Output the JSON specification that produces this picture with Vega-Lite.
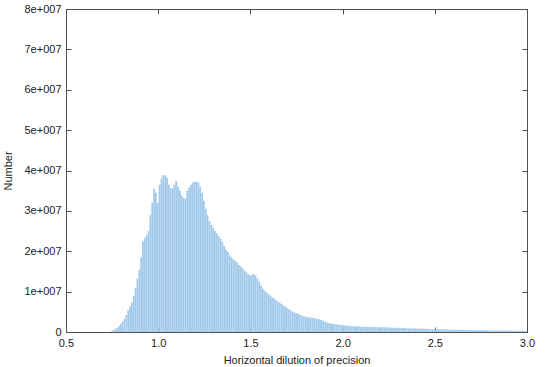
{
  "$schema": "https://vega.github.io/schema/vega-lite/v6.json",
  "width": 461,
  "height": 323,
  "autosize": {"type": "none"},
  "padding": {"left": 66, "top": 9, "right": 23, "bottom": 35},
  "background": "white",
  "config": {
    "view": {"stroke": "#505050", "strokeWidth": 1},
    "font": "Liberation Sans",
    "axis": {
      "domain": false,
      "grid": false,
      "tickColor": "#505050",
      "labelFont": "Liberation Sans",
      "labelFontSize": 11,
      "labelColor": "#222222",
      "titleFont": "Liberation Sans",
      "titleFontSize": 11,
      "titleFontWeight": "normal",
      "titleColor": "#222222"
    }
  },
  "data": {
    "values": [
      {"lo":0.74,"n":200000},{"lo":0.75,"n":500000},{"lo":0.76,"n":800000},{"lo":0.77,"n":1000000},{"lo":0.78,"n":1500000},{"lo":0.79,"n":2100000},
      {"lo":0.80,"n":2600000},{"lo":0.81,"n":3300000},{"lo":0.82,"n":4200000},{"lo":0.83,"n":5400000},{"lo":0.84,"n":6300000},{"lo":0.85,"n":7300000},{"lo":0.86,"n":9000000},{"lo":0.87,"n":11000000},{"lo":0.88,"n":13200000},{"lo":0.89,"n":15500000},
      {"lo":0.90,"n":18600000},{"lo":0.91,"n":22500000},{"lo":0.92,"n":23300000},{"lo":0.93,"n":24000000},{"lo":0.94,"n":25000000},{"lo":0.95,"n":29000000},{"lo":0.96,"n":32000000},{"lo":0.97,"n":35500000},{"lo":0.98,"n":34500000},{"lo":0.99,"n":32000000},
      {"lo":1.00,"n":36500000},{"lo":1.01,"n":38000000},{"lo":1.02,"n":38800000},{"lo":1.03,"n":38900000},{"lo":1.04,"n":38200000},{"lo":1.05,"n":36500000},{"lo":1.06,"n":35600000},{"lo":1.07,"n":35600000},{"lo":1.08,"n":36500000},{"lo":1.09,"n":37400000},
      {"lo":1.10,"n":36000000},{"lo":1.11,"n":35000000},{"lo":1.12,"n":33800000},{"lo":1.13,"n":33200000},{"lo":1.14,"n":33000000},{"lo":1.15,"n":35000000},{"lo":1.16,"n":35800000},{"lo":1.17,"n":36500000},{"lo":1.18,"n":37000000},{"lo":1.19,"n":37200000},
      {"lo":1.20,"n":37200000},{"lo":1.21,"n":37000000},{"lo":1.22,"n":36000000},{"lo":1.23,"n":34500000},{"lo":1.24,"n":32500000},{"lo":1.25,"n":30500000},{"lo":1.26,"n":29000000},{"lo":1.27,"n":27500000},{"lo":1.28,"n":26500000},{"lo":1.29,"n":25800000},
      {"lo":1.30,"n":25000000},{"lo":1.31,"n":24500000},{"lo":1.32,"n":23800000},{"lo":1.33,"n":23200000},{"lo":1.34,"n":22300000},{"lo":1.35,"n":21300000},{"lo":1.36,"n":20400000},{"lo":1.37,"n":19800000},{"lo":1.38,"n":19000000},{"lo":1.39,"n":18500000},
      {"lo":1.40,"n":18000000},{"lo":1.41,"n":17600000},{"lo":1.42,"n":17200000},{"lo":1.43,"n":16600000},{"lo":1.44,"n":16200000},{"lo":1.45,"n":15700000},{"lo":1.46,"n":15200000},{"lo":1.47,"n":14800000},{"lo":1.48,"n":14300000},{"lo":1.49,"n":14000000},
      {"lo":1.50,"n":14200000},{"lo":1.51,"n":14400000},{"lo":1.52,"n":14000000},{"lo":1.53,"n":13200000},{"lo":1.54,"n":12400000},{"lo":1.55,"n":11500000},{"lo":1.56,"n":10700000},{"lo":1.57,"n":10200000},{"lo":1.58,"n":9800000},{"lo":1.59,"n":9400000},
      {"lo":1.60,"n":9000000},{"lo":1.61,"n":8600000},{"lo":1.62,"n":8300000},{"lo":1.63,"n":7900000},{"lo":1.64,"n":7600000},{"lo":1.65,"n":7300000},{"lo":1.66,"n":7000000},{"lo":1.67,"n":6600000},{"lo":1.68,"n":6300000},{"lo":1.69,"n":6000000},
      {"lo":1.70,"n":5700000},{"lo":1.71,"n":5400000},{"lo":1.72,"n":5100000},{"lo":1.73,"n":4900000},{"lo":1.74,"n":4700000},{"lo":1.75,"n":4500000},{"lo":1.76,"n":4300000},{"lo":1.77,"n":4100000},{"lo":1.78,"n":3900000},{"lo":1.79,"n":3800000},
      {"lo":1.80,"n":3700000},{"lo":1.81,"n":3600000},{"lo":1.82,"n":3600000},{"lo":1.83,"n":3500000},{"lo":1.84,"n":3400000},{"lo":1.85,"n":3300000},{"lo":1.86,"n":3200000},{"lo":1.87,"n":3100000},{"lo":1.88,"n":2900000},{"lo":1.89,"n":2700000},
      {"lo":1.90,"n":2500000},{"lo":1.91,"n":2300000},{"lo":1.92,"n":2200000},{"lo":1.93,"n":2100000},{"lo":1.94,"n":2000000},{"lo":1.95,"n":1900000},{"lo":1.96,"n":1850000},{"lo":1.97,"n":1800000},{"lo":1.98,"n":1750000},{"lo":1.99,"n":1700000},
      {"lo":2.00,"n":1650000},{"lo":2.01,"n":1600000},{"lo":2.02,"n":1550000},{"lo":2.03,"n":1500000},{"lo":2.04,"n":1500000},{"lo":2.05,"n":1450000},{"lo":2.06,"n":1400000},{"lo":2.07,"n":1400000},{"lo":2.08,"n":1350000},{"lo":2.09,"n":1350000},
      {"lo":2.10,"n":1300000},{"lo":2.11,"n":1290000},{"lo":2.12,"n":1280000},{"lo":2.13,"n":1270000},{"lo":2.14,"n":1260000},{"lo":2.15,"n":1250000},{"lo":2.16,"n":1240000},{"lo":2.17,"n":1230000},{"lo":2.18,"n":1220000},{"lo":2.19,"n":1210000},
      {"lo":2.20,"n":1200000},{"lo":2.21,"n":1180000},{"lo":2.22,"n":1160000},{"lo":2.23,"n":1140000},{"lo":2.24,"n":1120000},{"lo":2.25,"n":1100000},{"lo":2.26,"n":1080000},{"lo":2.27,"n":1060000},{"lo":2.28,"n":1040000},{"lo":2.29,"n":1020000},
      {"lo":2.30,"n":1000000},{"lo":2.31,"n":990000},{"lo":2.32,"n":970000},{"lo":2.33,"n":960000},{"lo":2.34,"n":940000},{"lo":2.35,"n":930000},{"lo":2.36,"n":910000},{"lo":2.37,"n":900000},{"lo":2.38,"n":880000},{"lo":2.39,"n":870000},
      {"lo":2.40,"n":850000},{"lo":2.41,"n":840000},{"lo":2.42,"n":820000},{"lo":2.43,"n":810000},{"lo":2.44,"n":800000},{"lo":2.45,"n":780000},{"lo":2.46,"n":770000},{"lo":2.47,"n":750000},{"lo":2.48,"n":730000},{"lo":2.49,"n":720000},
      {"lo":2.50,"n":700000},{"lo":2.51,"n":690000},{"lo":2.52,"n":670000},{"lo":2.53,"n":660000},{"lo":2.54,"n":640000},{"lo":2.55,"n":630000},{"lo":2.56,"n":610000},{"lo":2.57,"n":600000},{"lo":2.58,"n":580000},{"lo":2.59,"n":570000},
      {"lo":2.60,"n":550000},{"lo":2.61,"n":540000},{"lo":2.62,"n":530000},{"lo":2.63,"n":520000},{"lo":2.64,"n":510000},{"lo":2.65,"n":500000},{"lo":2.66,"n":490000},{"lo":2.67,"n":480000},{"lo":2.68,"n":470000},{"lo":2.69,"n":460000},
      {"lo":2.70,"n":450000},{"lo":2.71,"n":450000},{"lo":2.72,"n":440000},{"lo":2.73,"n":440000},{"lo":2.74,"n":430000},{"lo":2.75,"n":430000},{"lo":2.76,"n":420000},{"lo":2.77,"n":420000},{"lo":2.78,"n":410000},{"lo":2.79,"n":410000},
      {"lo":2.80,"n":400000},{"lo":2.81,"n":400000},{"lo":2.82,"n":390000},{"lo":2.83,"n":390000},{"lo":2.84,"n":380000},{"lo":2.85,"n":380000},{"lo":2.86,"n":370000},{"lo":2.87,"n":370000},{"lo":2.88,"n":360000},{"lo":2.89,"n":360000},
      {"lo":2.90,"n":350000},{"lo":2.91,"n":350000},{"lo":2.92,"n":340000},{"lo":2.93,"n":340000},{"lo":2.94,"n":330000},{"lo":2.95,"n":330000},{"lo":2.96,"n":320000},{"lo":2.97,"n":320000},{"lo":2.98,"n":310000},{"lo":2.99,"n":310000}
    ]
  },
  "layer": [
    {
      "mark": {"type": "bar", "fill": "#9cc7ea", "stroke": "#ffffff", "strokeWidth": 0.25, "strokeOpacity": 0.5, "binSpacing": 0, "clip": true},
      "encoding": {
        "x": {
          "field": "lo", "type": "quantitative", "bin": {"binned": true, "step": 0.01},
          "scale": {"domain": [0.5, 3.0], "nice": false, "zero": false, "padding": 0},
          "axis": {"orient": "bottom", "values": [0.5, 1.0, 1.5, 2.0, 2.5, 3.0], "format": ".1f", "ticks": false, "labelPadding": 5, "title": "Horizontal dilution of precision", "titlePadding": 6, "labelFlush": false}
        },
        "y": {
          "field": "n", "type": "quantitative",
          "scale": {"domain": [0, 80000000], "nice": false, "zero": true},
          "axis": {"orient": "left", "values": [0, 10000000, 20000000, 30000000, 40000000, 50000000, 60000000, 70000000, 80000000], "labelExpr": "datum.value == 0 ? '0' : (datum.value / 10000000) + 'e+007'", "ticks": false, "labelPadding": 5, "title": "Number", "titlePadding": 10}
        }
      }
    },
    {
      "mark": {"type": "point", "opacity": 0},
      "encoding": {
        "x": {
          "field": "lo", "type": "quantitative",
          "axis": {"orient": "bottom", "values": [0.5, 1.0, 1.5, 2.0, 2.5, 3.0], "labels": false, "title": null, "ticks": true, "tickSize": 5, "offset": -5}
        },
        "y": {
          "field": "n", "type": "quantitative",
          "axis": {"orient": "left", "values": [0, 10000000, 20000000, 30000000, 40000000, 50000000, 60000000, 70000000, 80000000], "labels": false, "title": null, "ticks": true, "tickSize": 5, "offset": -5}
        }
      }
    },
    {
      "mark": {"type": "point", "opacity": 0},
      "encoding": {
        "x": {
          "field": "lo", "type": "quantitative",
          "axis": {"orient": "top", "values": [0.5, 1.0, 1.5, 2.0, 2.5, 3.0], "labels": false, "title": null, "ticks": true, "tickSize": 5, "offset": -5}
        },
        "y": {
          "field": "n", "type": "quantitative",
          "axis": {"orient": "right", "values": [0, 10000000, 20000000, 30000000, 40000000, 50000000, 60000000, 70000000, 80000000], "labels": false, "title": null, "ticks": true, "tickSize": 5, "offset": -5}
        }
      }
    }
  ],
  "resolve": {"axis": {"x": "independent", "y": "independent"}}
}
